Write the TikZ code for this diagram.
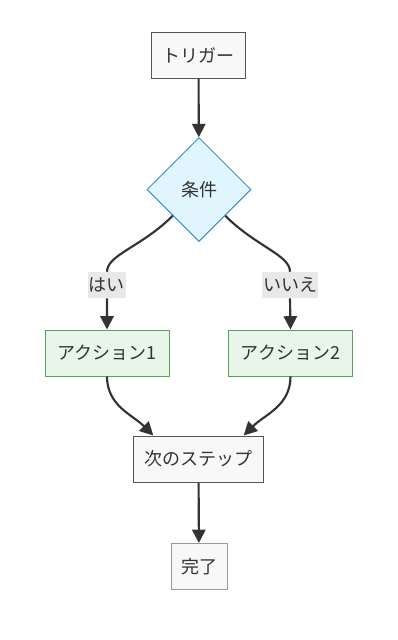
\documentclass[tikz,border=0pt]{standalone}
\usepackage{fontspec}
\setmainfont{Noto Sans CJK JP}
\usetikzlibrary{arrows.meta,shapes.geometric}

\definecolor{boxfill}{HTML}{F8F8F8}
\definecolor{boxline}{HTML}{555555}
\definecolor{condfill}{HTML}{E1F5FE}
\definecolor{condline}{HTML}{3A8FD0}
\definecolor{actfill}{HTML}{E8F5E9}
\definecolor{actline}{HTML}{5E9E5E}
\definecolor{labelfill}{HTML}{E8E8E8}
\definecolor{flowline}{HTML}{333333}

\tikzset{
    plainbox/.style={draw=boxline, fill=boxfill, line width=0.75pt, minimum height=34.5pt, inner xsep=8pt, font=\fontsize{13.5}{16}\selectfont, text=flowline},
    condbox/.style={diamond, draw=condline, fill=condfill, line width=0.75pt, minimum width=78pt, minimum height=78pt, inner sep=0pt, font=\fontsize{13.5}{16}\selectfont, text=flowline},
    actbox/.style={draw=actline, fill=actfill, line width=0.75pt, minimum height=34.5pt, minimum width=93pt, font=\fontsize{13.5}{16}\selectfont, text=flowline},
    edgelabel/.style={fill=labelfill, inner xsep=1pt, inner ysep=3pt, minimum height=19.5pt, font=\fontsize{13.5}{16}\selectfont, text=flowline},
    flow/.style={draw=flowline, line width=1.6pt, -{Triangle[length=10pt, width=10pt]}}
}

\begin{document}
\begin{tikzpicture}[x=0.75pt, y=-0.75pt]
        \useasboundingbox (0,0) rectangle (397,640);

        \node[plainbox] (trigger) at (198.5,55) {トリガー};
        \node[condbox] (cond) at (199,189.5) {条件};
        \node[edgelabel] (yes) at (107,285) {はい};
        \node[edgelabel] (no) at (290,285) {いいえ};
        \node[actbox] (act1) at (107,353) {アクション1};
        \node[actbox] (act2) at (290.5,353) {アクション2};
        \node[plainbox] (next) at (198.5,459) {次のステップ};
        \node[plainbox, draw=boxline!60, minimum width=42pt, inner xsep=6pt] (done) at (199,566.5) {完了};

        \draw[flow] (cond.south west) to[out=-135, in=90, out looseness=1.3, in looseness=0.5] (yes.north) (yes.south) -- (act1.north);
        \draw[flow] (cond.south east) to[out=-45, in=90, out looseness=1.3, in looseness=0.5] (no.north) (no.south) -- (act2.north);
        \draw[flow] (trigger) -- (cond);
        \draw[flow] (act1.south) to[out=-90, in=135] ([xshift=15pt]next.north west);
        \draw[flow] (act2.south) to[out=-90, in=45] ([xshift=-15pt]next.north east);
        \draw[flow] (next) -- (done);
\end{tikzpicture}
\end{document}
